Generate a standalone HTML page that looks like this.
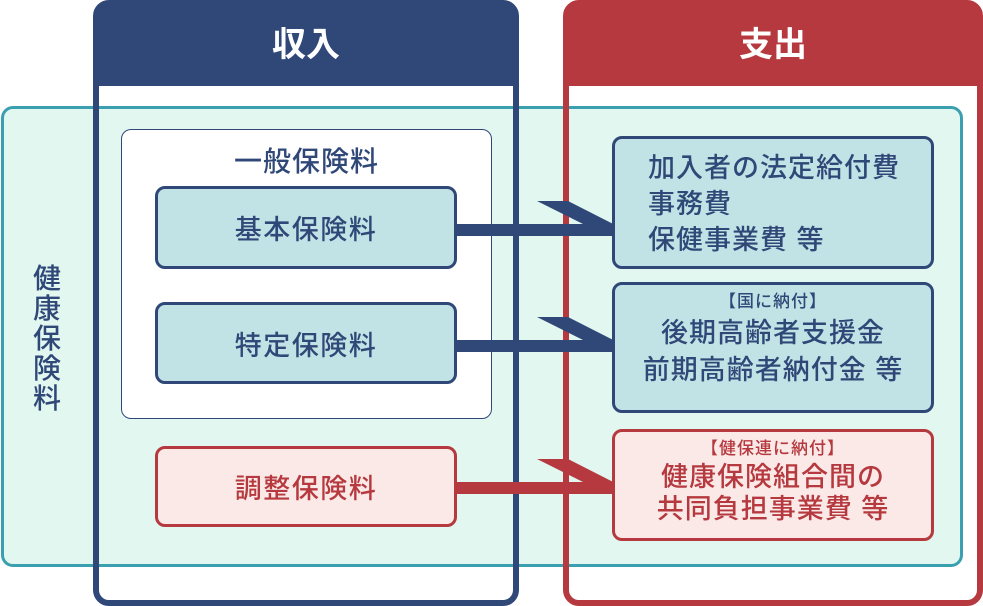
<!DOCTYPE html>
<html><head><meta charset="utf-8"><style>
body{margin:0;width:983px;height:606px;position:relative;overflow:hidden;background:#fff;font-family:"Liberation Sans","Noto Sans CJK JP",sans-serif;}
div{position:absolute;box-sizing:border-box;}
.band{left:1px;top:106px;width:962px;height:461px;border:3px solid #3aa0b0;background:#e2f7f0;border-radius:12px;}
.col{top:0;height:606px;border:6px solid;border-radius:16px;}
.hd{left:0;top:0;right:0;height:80px;color:#fff;font-weight:bold;font-size:34px;text-align:center;line-height:78px;}
.bx{border:3px solid #2f4878;border-radius:10px;background:#c2e3e5;color:#2f4878;font-size:27px;font-weight:500;letter-spacing:1.5px;}
.c{display:flex;align-items:center;justify-content:center;}
</style></head><body>
<div class="band"></div>
<div style="left:18px;top:264px;width:58px;font-size:28px;line-height:30px;color:#2f4878;text-align:center;font-weight:500;">健<br>康<br>保<br>険<br>料</div>
<div style="left:121px;top:129px;width:371px;height:290px;border:1px solid #2f4878;border-radius:10px;background:#fff;"></div>
<div style="left:121px;top:140px;width:371px;text-align:center;font-size:28px;color:#2f4878;font-weight:500;letter-spacing:1px;">一般保険料</div>
<div class="col" style="left:93px;width:426px;border-color:#2f4878;"><div class="hd" style="background:#2f4878;">収入</div></div>
<div class="col" style="left:563px;width:420px;border-color:#b5393e;"><div class="hd" style="background:#b5393e;">支出</div></div>
<div class="bx c" style="left:155px;top:186px;width:302px;height:83px;">基本保険料</div>
<div class="bx c" style="left:155px;top:302px;width:302px;height:82px;">特定保険料</div>
<div class="bx c" style="left:155px;top:446px;width:302px;height:81px;border-color:#b5393e;background:#fbe9e8;color:#b5393e;">調整保険料</div>
<svg style="position:absolute;left:0;top:0" width="983" height="606">
<polygon points="457,224 583,224 537,201 568,201 625,230 612,236 457,236" fill="#2f4878"/>
<polygon points="457,340 583,340 537,317 568,317 625,346 612,352 457,352" fill="#2f4878"/>
<polygon points="457,482 583,482 537,459 568,459 625,488 612,494 457,494" fill="#b5393e"/>
</svg>
<div class="bx" style="left:612px;top:136px;width:322px;height:133px;padding:11px 0 0 33px;line-height:36px;letter-spacing:1px;">加入者の法定給付費<br>事務費<br>保健事業費 等</div>
<div class="bx" style="left:612px;top:282px;width:322px;height:131px;text-align:center;padding-top:4px;line-height:37px;letter-spacing:1px;"><div style="position:static;font-size:17px;line-height:26px;">【国に納付】</div>後期高齢者支援金<br>前期高齢者納付金 等</div>
<div class="bx" style="left:612px;top:429px;width:322px;height:112px;text-align:center;padding-top:5px;line-height:32px;letter-spacing:1px;border-color:#b5393e;background:#fbe9e8;color:#b5393e;"><div style="position:static;font-size:17px;line-height:24px;">【健保連に納付】</div>健康保険組合間の<br>共同負担事業費 等</div>
</body></html>
